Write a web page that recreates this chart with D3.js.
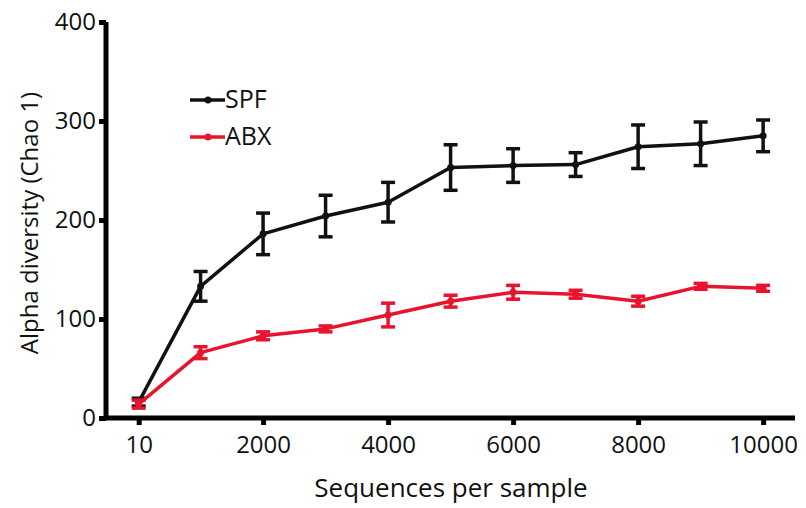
<!DOCTYPE html>
<html>
<head>
<meta charset="utf-8">
<script src="https://cdn.jsdelivr.net/npm/d3@7/dist/d3.min.js"></script>
<style>
  html, body { margin: 0; padding: 0; background: #fff; }
  svg text { font-family: "Open Sans", "DejaVu Sans", sans-serif; fill: #111; }
</style>
</head>
<body>
<svg id="chart" width="806" height="508"></svg>
<script>
// ---- data ----
const depths = [10, 1000, 2000, 3000, 4000, 5000, 6000, 7000, 8000, 9000, 10000];
const spfMean = [16, 133, 186, 204, 218, 253, 255, 256, 274, 277, 285];
const spfErr  = [4, 15, 21, 21, 20, 23, 17, 12, 22, 22, 16];
const abxMean = [14, 66, 83, 90, 104, 118, 127, 125, 118, 133, 131];
const abxErr  = [4, 6, 4, 3, 12, 6, 7, 4, 5, 3, 3];
const xTicks = [10, 2000, 4000, 6000, 8000, 10000];
const yTicks = [0, 100, 200, 300, 400];
const seriesNames = ["SPF", "ABX"];
const seriesColors = ["#111111", "#e8142e"];

const svg = d3.select("#chart");
const x = d3.scaleLinear().domain([-545, 10510]).range([104, 795]);
const y = d3.scaleLinear().domain([0, 400]).range([418, 22]);

// axes
const yAxis = d3.axisLeft(y).tickValues(yTicks).tickSize(7).tickSizeOuter(0).tickPadding(3);
const xAxis = d3.axisBottom(x).tickValues(xTicks).tickSize(7).tickSizeOuter(0).tickPadding(11)
  .tickFormat(d3.format("d"));

const gy = svg.append("g").attr("transform", "translate(106,0)").call(yAxis);
const gx = svg.append("g").attr("transform", "translate(0,418)").call(xAxis);
[gx, gy].forEach(g => {
  g.select(".domain").attr("stroke", "#000").attr("stroke-width", 5);
  g.selectAll(".tick line").attr("stroke", "#000").attr("stroke-width", 5);
  g.selectAll(".tick text").attr("font-size", 24).attr("font-family", "Open Sans").attr("fill", "#111");
});
gx.select(".domain").attr("d", `M${104},0H${795}`);
gy.select(".domain").attr("d", `M0,${y(0)}V${y(400)}`);

// axis titles
svg.append("text").attr("x", 451).attr("y", 497).attr("text-anchor", "middle")
  .attr("font-size", 26).text("Sequences per sample");
svg.append("text").attr("transform", "translate(38,223) rotate(-90)").attr("text-anchor", "middle")
  .attr("font-size", 24).text("Alpha diversity (Chao 1)");

// series
const series = [
  {name: seriesNames[0], mean: spfMean, err: spfErr, color: seriesColors[0]},
  {name: seriesNames[1], mean: abxMean, err: abxErr, color: seriesColors[1]}
];
const line = d3.line().x(d => x(d.x)).y(d => y(d.m));
series.forEach(s => {
  const pts = depths.map((d, i) => ({x: d, m: s.mean[i], e: s.err[i]}));
  const g = svg.append("g");
  g.append("path").datum(pts).attr("d", line).attr("fill", "none")
    .attr("stroke", s.color).attr("stroke-width", 3.5).attr("stroke-linejoin", "round");
  const eb = g.selectAll(".eb").data(pts).enter().append("g");
  eb.append("line").attr("x1", d => x(d.x)).attr("x2", d => x(d.x))
    .attr("y1", d => y(d.m + d.e)).attr("y2", d => y(d.m - d.e))
    .attr("stroke", s.color).attr("stroke-width", 3.5);
  [1, -1].forEach(sg => {
    eb.append("line").attr("x1", d => x(d.x) - 7).attr("x2", d => x(d.x) + 7)
      .attr("y1", d => y(d.m + sg * d.e)).attr("y2", d => y(d.m + sg * d.e))
      .attr("stroke", s.color).attr("stroke-width", 3.5);
  });
  g.selectAll(".pt").data(pts).enter().append("circle")
    .attr("cx", d => x(d.x)).attr("cy", d => y(d.m)).attr("r", 3.5).attr("fill", s.color);
});

// legend
const lg = svg.append("g");
series.forEach((s, i) => {
  const ly = 100 + i * 37;
  lg.append("line").attr("x1", 190).attr("x2", 225).attr("y1", ly).attr("y2", ly)
    .attr("stroke", s.color).attr("stroke-width", 3.5);
  lg.append("circle").attr("cx", 208).attr("cy", ly).attr("r", 3.5).attr("fill", s.color);
  lg.append("text").attr("x", 225).attr("y", ly + 8).attr("font-size", 25).text(s.name);
});
</script>
</body>
</html>
